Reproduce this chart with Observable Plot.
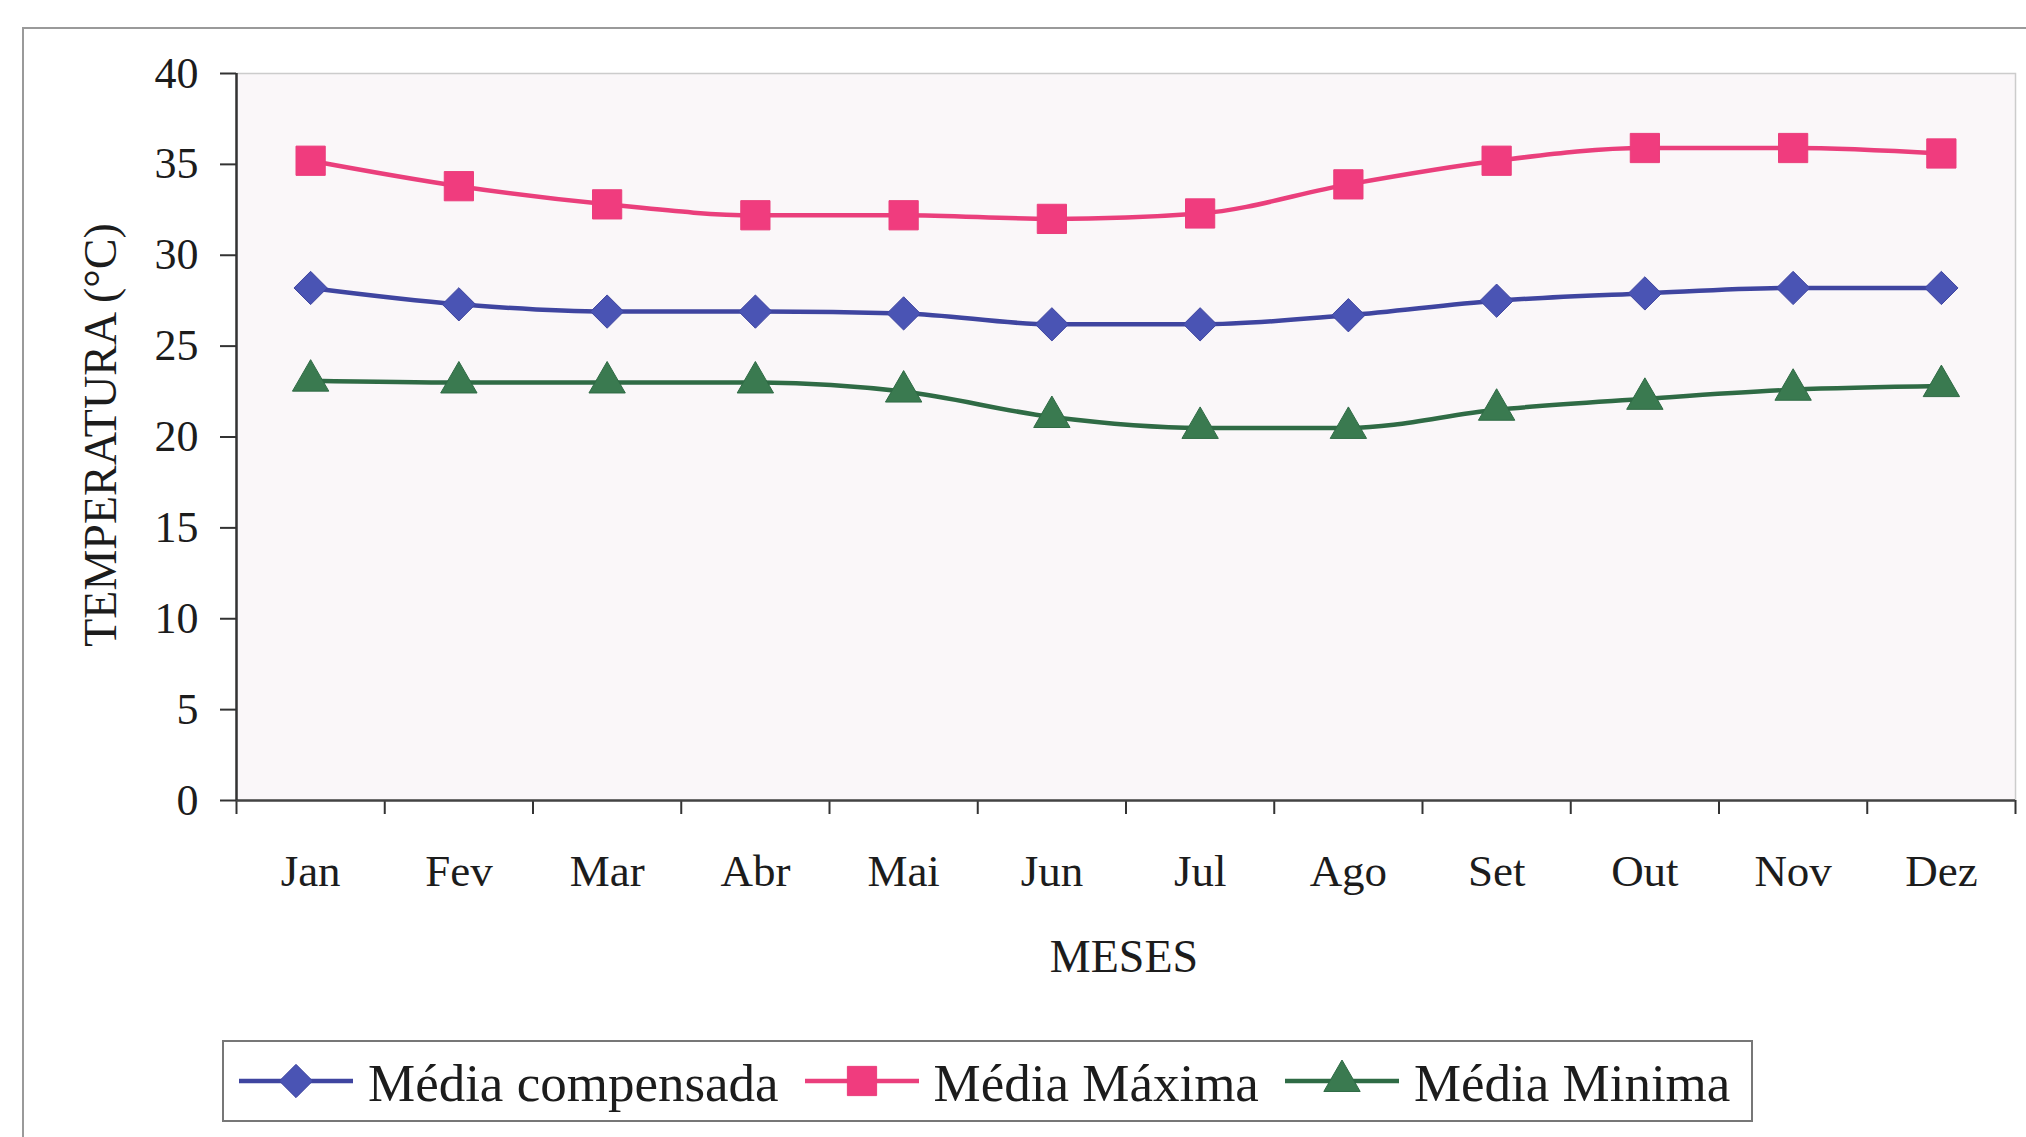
<!DOCTYPE html>
<html>
<head>
<meta charset="utf-8">
<script src="https://cdn.jsdelivr.net/npm/d3@7"></script>
<script src="https://cdn.jsdelivr.net/npm/@observablehq/plot@0.6"></script>
<style>
  html, body { margin: 0; padding: 0; background: #fff; }
  #page { position: relative; width: 2026px; height: 1137px; overflow: hidden; font-family: "Liberation Serif", "Times New Roman", serif; color: #1c1c1c; }
  #frame { position: absolute; left: 22px; top: 27px; width: 2010px; height: 1200px; border-left: 2px solid #9a9a9a; border-top: 2px solid #9a9a9a; }
  #chart { position: absolute; left: 0; top: 0; }
  #legend { position: absolute; left: 222px; top: 1040px; width: 1531px; height: 82px; border: 2px solid #777; background: #fff; display: flex; align-items: center; padding-left: 15px; box-sizing: border-box; white-space: nowrap; }
  #legend .item { display: flex; align-items: center; margin-right: 26px; flex-shrink: 0; }
  #legend .item svg { flex-shrink: 0; }
  #legend .item span { font-size: 53px; margin-left: 15px; line-height: 1; position: relative; top: 2px; white-space: nowrap; }
</style>
</head>
<body>
<div id="page">
  <div id="frame"></div>
  <div id="chart"></div>
  <div id="legend"></div>
</div>
<script>
// Monthly temperatures (°C)
const months = ["Jan", "Fev", "Mar", "Abr", "Mai", "Jun", "Jul", "Ago", "Set", "Out", "Nov", "Dez"];
const mediaCompensada = [28.2, 27.3, 26.9, 26.9, 26.8, 26.2, 26.2, 26.7, 27.5, 27.9, 28.2, 28.2];
const mediaMaxima     = [35.2, 33.8, 32.8, 32.2, 32.2, 32.0, 32.3, 33.9, 35.2, 35.9, 35.9, 35.6];
const mediaMinima     = [23.1, 23.0, 23.0, 23.0, 22.5, 21.1, 20.5, 20.5, 21.5, 22.1, 22.6, 22.8];
const yTicks = [0, 5, 10, 15, 20, 25, 30, 35, 40];

const series = [
  {name: "Média compensada", values: mediaCompensada, line: "#3f45a0", fill: "#4a54b4", symbol: "diamond2", r: 15},
  {name: "Média Máxima",     values: mediaMaxima,     line: "#ea3f7c", fill: "#f03c7e", symbol: "square",   r: 16.5},
  {name: "Média Minima",     values: mediaMinima,     line: "#2f6b45", fill: "#3a7a50", symbol: "triangle", r: 13.5}
];

const rows = series.flatMap(s => s.values.map((v, i) => ({serie: s.name, mes: i, temp: v})));
const boundaries = d3.range(months.length + 1).map(i => i - 0.5);

const font = "Liberation Serif, Times New Roman, serif";

const marks = [
  Plot.frame({fill: "#faf7f9", stroke: "#cccccc", strokeWidth: 1.5}),
  Plot.axisY({ticks: yTicks, tickSize: 16, tickPadding: 22, fontSize: 44, stroke: "#333", strokeWidth: 2, label: null, fill: "#1c1c1c"}),
  Plot.axisX({ticks: boundaries, tickSize: 14, tickFormat: () => "", stroke: "#333", strokeWidth: 2, label: null}),
  Plot.axisX({ticks: d3.range(months.length), tickSize: 0, tickPadding: 54, tickFormat: i => months[i], fontSize: 45, label: null, fill: "#1c1c1c"}),
  Plot.ruleY([0], {stroke: "#444", strokeWidth: 2.5}),
  Plot.ruleX([-0.5], {stroke: "#333", strokeWidth: 2.5})
];

for (const s of series) {
  const data = rows.filter(d => d.serie === s.name);
  marks.push(Plot.line(data, {x: "mes", y: "temp", stroke: s.line, strokeWidth: 4.5, curve: "monotone-x"}));
  marks.push(Plot.dot(data, {x: "mes", y: "temp", symbol: () => s.symbol, fill: s.fill, stroke: s.line, strokeWidth: 1, r: s.r}));
}

const chart = Plot.plot({
  width: 2026,
  height: 1010,
  marginLeft: 236,
  marginRight: 11,
  marginTop: 73,
  marginBottom: 210,
  style: {fontFamily: font, background: "transparent", color: "#1c1c1c"},
  x: {type: "linear", domain: [-0.5, months.length - 0.5], axis: null},
  y: {domain: [0, 40], axis: null},
  symbol: {type: "identity"},
  marks
});
document.getElementById("chart").appendChild(chart);

// Axis titles
const svg = d3.select(chart);
svg.append("text")
  .attr("transform", "translate(100,435) rotate(-90)")
  .attr("text-anchor", "middle")
  .attr("dominant-baseline", "central")
  .attr("font-size", 46)
  .attr("fill", "#1c1c1c")
  .text("TEMPERATURA (°C)");
svg.append("text")
  .attr("x", 1124)
  .attr("y", 956)
  .attr("text-anchor", "middle")
  .attr("dominant-baseline", "central")
  .attr("font-size", 46)
  .attr("fill", "#1c1c1c")
  .text("MESES");

// Legend: line + marker swatch and series name
const legend = d3.select("#legend");
for (const s of series) {
  const item = legend.append("div").attr("class", "item");
  const sw = item.append("svg").attr("width", 114).attr("height", 50);
  sw.append("line").attr("x1", 0).attr("x2", 114).attr("y1", 25).attr("y2", 25)
    .attr("stroke", s.line).attr("stroke-width", 4.5);
  const sym = {diamond2: d3.symbolDiamond2, square: d3.symbolSquare, triangle: d3.symbolTriangle}[s.symbol];
  sw.append("path")
    .attr("transform", "translate(57,25)")
    .attr("d", d3.symbol(sym, Math.PI * s.r * s.r)())
    .attr("fill", s.fill).attr("stroke", s.line).attr("stroke-width", 1);
  item.append("span").text(s.name);
}
</script>
</body>
</html>
